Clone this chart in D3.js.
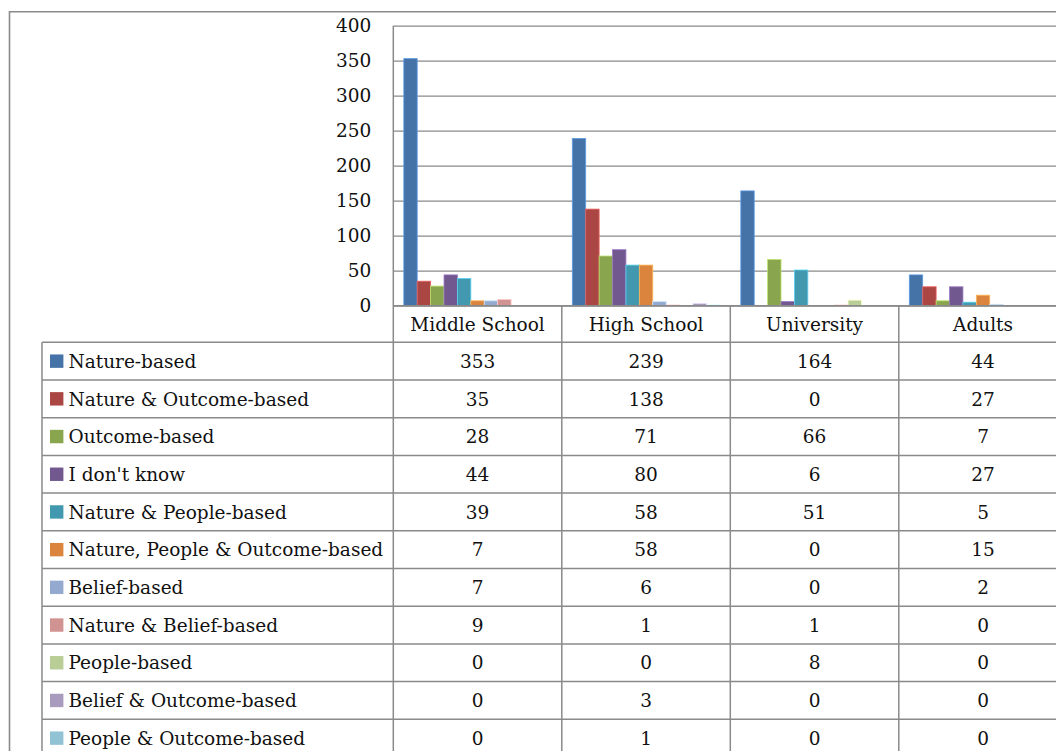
<!DOCTYPE html>
<html>
<head>
<meta charset="utf-8">
<script src="https://cdn.jsdelivr.net/npm/d3@7"></script>
<style>
  html, body { margin: 0; padding: 0; background: #fff; }
  svg { display: block; }
  text { font-family: "DejaVu Serif", "Liberation Serif", serif; fill: #111; }
</style>
</head>
<body>
<div id="chart"></div>
<script>
// ---- data ----
const categories = ["Middle School", "High School", "University", "Adults"];
const seriesNames = [
  "Nature-based",
  "Nature & Outcome-based",
  "Outcome-based",
  "I don't know",
  "Nature & People-based",
  "Nature, People & Outcome-based",
  "Belief-based",
  "Nature & Belief-based",
  "People-based",
  "Belief & Outcome-based",
  "People & Outcome-based"
];
const natureBased            = [353, 239, 164, 44];
const natureOutcomeBased     = [35, 138, 0, 27];
const outcomeBased           = [28, 71, 66, 7];
const dontKnow               = [44, 80, 6, 27];
const naturePeopleBased      = [39, 58, 51, 5];
const naturePeopleOutcome    = [7, 58, 0, 15];
const beliefBased            = [7, 6, 0, 2];
const natureBeliefBased      = [9, 1, 1, 0];
const peopleBased            = [0, 0, 8, 0];
const beliefOutcomeBased     = [0, 3, 0, 0];
const peopleOutcomeBased     = [0, 1, 0, 0];
const seriesValues = [natureBased, natureOutcomeBased, outcomeBased, dontKnow,
  naturePeopleBased, naturePeopleOutcome, beliefBased, natureBeliefBased,
  peopleBased, beliefOutcomeBased, peopleOutcomeBased];
const seriesColors = ["#4572A7", "#AA4643", "#89A54E", "#71588F", "#4198AF",
  "#DB843D", "#93A9CF", "#D19392", "#B9CD96", "#A99BBD", "#92C3D4"];
const yTicks = [0, 50, 100, 150, 200, 250, 300, 350, 400];

// ---- layout ----
const W = 1056, H = 751;
const plotLeft = 393.3, plotTop = 25.7, plotBottom = 305.7;
const catWidth = 168.5;
const plotRight = plotLeft + catWidth * categories.length;
const tableLeft = 42, rowH = 37.7;
const headerBottom = 342.3;
const gridColor = "#8a8a8a";
const fontSize = 18.5;

const svg = d3.select("#chart").append("svg")
  .attr("width", W).attr("height", H);

// outer chart border
svg.append("path")
  .attr("d", `M9.5,${H + 5}V11.7H${W + 20}`)
  .attr("fill", "none").attr("stroke", gridColor).attr("stroke-width", 1.6);

const y = d3.scaleLinear().domain([0, 400]).range([plotBottom, plotTop]);
const x = d3.scaleBand().domain(categories).range([plotLeft, plotRight]).padding(0);
const xs = d3.scaleBand().domain(d3.range(seriesNames.length))
  .range([10.5, catWidth - 10.5]).padding(0);

// gridlines + y axis labels
const yAxis = d3.axisLeft(y).tickValues(yTicks)
  .tickSizeInner(-(plotRight - plotLeft)).tickSizeOuter(0).tickPadding(22);
const gy = svg.append("g").attr("transform", `translate(${plotLeft},0)`).call(yAxis);
gy.select(".domain").remove();
gy.selectAll(".tick line").attr("stroke", gridColor).attr("stroke-width", 1.3);
gy.selectAll(".tick text")
  .attr("font-family", "DejaVu Serif, Liberation Serif, serif")
  .attr("font-size", fontSize).attr("fill", "#111");

// bars
const catG = svg.append("g").selectAll("g").data(categories).join("g")
  .attr("transform", d => `translate(${x(d)},0)`);
catG.each(function(cat, ci) {
  d3.select(this).selectAll("rect")
    .data(seriesValues.map((vals, si) => ({ si, v: vals[ci] })).filter(d => d.v > 0))
    .join("rect")
    .attr("x", d => xs(d.si))
    .attr("width", xs.bandwidth())
    .attr("y", d => y(d.v))
    .attr("height", d => y(0) - y(d.v))
    .attr("fill", d => seriesColors[d.si])
    .attr("stroke", d => d3.color(seriesColors[d.si]).brighter(0.9))
    .attr("stroke-width", 0.8);
});

// x axis line (0 gridline) redraw on top
svg.append("line")
  .attr("x1", plotLeft).attr("x2", plotRight)
  .attr("y1", y(0)).attr("y2", y(0))
  .attr("stroke", gridColor).attr("stroke-width", 1.5);

// vertical lines: y axis continues through table, category boundaries
const tableBottom = headerBottom + rowH * seriesNames.length;
svg.append("line")
  .attr("x1", plotLeft).attr("x2", plotLeft)
  .attr("y1", plotTop).attr("y2", tableBottom)
  .attr("stroke", gridColor).attr("stroke-width", 1.5);
svg.append("g").selectAll("line").data(categories.slice(1).concat(["__end"]))
  .join("line")
  .attr("x1", (d, i) => plotLeft + catWidth * (i + 1))
  .attr("x2", (d, i) => plotLeft + catWidth * (i + 1))
  .attr("y1", plotBottom).attr("y2", tableBottom)
  .attr("stroke", gridColor).attr("stroke-width", 1.5);

// table left border
svg.append("line")
  .attr("x1", tableLeft).attr("x2", tableLeft)
  .attr("y1", headerBottom).attr("y2", tableBottom)
  .attr("stroke", gridColor).attr("stroke-width", 1.5);

// table horizontal lines
svg.append("g").selectAll("line").data(d3.range(seriesNames.length + 1))
  .join("line")
  .attr("x1", tableLeft).attr("x2", plotRight)
  .attr("y1", i => headerBottom + i * rowH)
  .attr("y2", i => headerBottom + i * rowH)
  .attr("stroke", gridColor).attr("stroke-width", 1.5);

// category labels
svg.append("g").selectAll("text").data(categories).join("text")
  .attr("x", d => x(d) + catWidth / 2)
  .attr("y", (plotBottom + headerBottom) / 2)
  .attr("dy", "0.36em")
  .attr("text-anchor", "middle")
  .attr("font-size", fontSize)
  .text(d => d);

// legend rows
const rows = svg.append("g").selectAll("g").data(seriesNames).join("g")
  .attr("transform", (d, i) => `translate(0,${headerBottom + i * rowH + rowH / 2})`);
rows.append("rect")
  .attr("x", 50).attr("y", -6.7).attr("width", 13.4).attr("height", 13.4)
  .attr("fill", (d, i) => seriesColors[i]);
rows.append("text")
  .attr("x", 68.5).attr("dy", "0.36em")
  .attr("font-size", fontSize)
  .text(d => d);
rows.each(function(name, si) {
  d3.select(this).selectAll("text.val")
    .data(seriesValues[si]).join("text")
    .attr("class", "val")
    .attr("x", (v, ci) => x(categories[ci]) + catWidth / 2)
    .attr("dy", "0.36em")
    .attr("text-anchor", "middle")
    .attr("font-size", fontSize)
    .text(v => v);
});
</script>
</body>
</html>
